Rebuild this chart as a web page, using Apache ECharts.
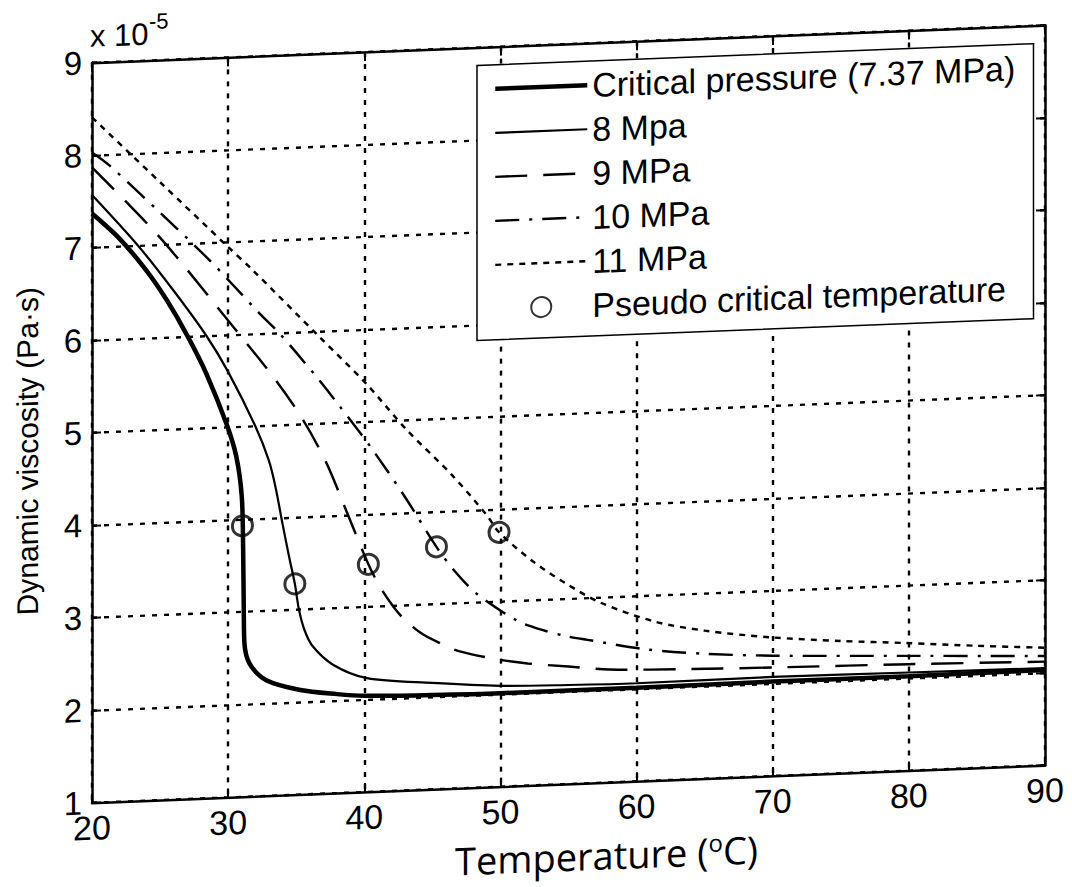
<!DOCTYPE html>
<html>
<head>
<meta charset="utf-8">
<title>Dynamic viscosity of CO2</title>
<script src="https://cdn.jsdelivr.net/npm/echarts/dist/echarts.min.js"></script>
<style>
  html, body { margin: 0; padding: 0; background: #fff; overflow: hidden; }
  /* the scanned figure is slightly sheared: right side sits higher */
  #chart {
    position: absolute; left: 0; top: -30px;
    width: 1072px; height: 947px;
    transform: skewY(-2.256deg);
    transform-origin: 568px 0;
  }
</style>
</head>
<body>
<div id="chart"></div>
<script>
// temperature (°C) and viscosity (x 1e-5 Pa·s)
const tCrit = [20, 22, 24, 25.5, 27, 28.4, 29.9, 30.6, 31.0, 31.1, 31.15, 31.2, 31.6, 32.8, 35.3, 38, 40, 45, 50, 60, 70, 80, 90];
const vCrit = [7.37, 7.09, 6.73, 6.4, 6.01, 5.59, 5.03, 4.68, 4.25, 3.7, 3.0, 2.65, 2.43, 2.25, 2.13, 2.07, 2.04, 2.02, 2.01, 2.01, 2.02, 2.02, 2.03];

const t8 = [20, 23.4, 26, 28.4, 30, 32.0, 33.0, 33.5, 34.0, 34.5, 34.9, 35.2, 35.6, 36.2, 37.7, 40.2, 45, 50, 55, 60, 70, 80, 90];
const v8 = [7.57, 7.0, 6.5, 6.0, 5.6, 5.0, 4.62, 4.32, 3.93, 3.56, 3.28, 3.0, 2.78, 2.6, 2.39, 2.23, 2.15, 2.09, 2.07, 2.06, 2.07, 2.06, 2.05];

const t9 = [20, 25, 30.4, 33.5, 35.5, 37.2, 38.7, 40.3, 41.2, 42.1, 43.0, 44.3, 45.8, 47, 49.7, 52, 55, 58, 64, 71, 80, 90];
const v9 = [7.87, 7.08, 6.08, 5.49, 5.05, 4.58, 4.04, 3.46, 3.2, 3.0, 2.84, 2.68, 2.56, 2.48, 2.38, 2.32, 2.27, 2.22, 2.19, 2.17, 2.15, 2.12];

const t10 = [20, 21.3, 25, 28.6, 32.3, 33.8, 36.7, 38.3, 40.5, 43.0, 45.3, 46.7, 48.3, 51.3, 52.8, 54.8, 56.4, 60.8, 65, 70, 80, 90];
const v10 = [8.03, 7.88, 7.35, 6.82, 6.22, 5.99, 5.47, 5.16, 4.72, 4.17, 3.62, 3.34, 3.09, 2.78, 2.69, 2.6, 2.55, 2.42, 2.35, 2.3, 2.24, 2.18];

const t11 = [20, 22.8, 25, 30, 31.8, 36.7, 40.1, 43.1, 46.5, 49.0, 49.9, 52.4, 54.8, 57.3, 61.3, 65, 69.8, 75, 79.8, 85, 90];
const v11 = [8.41, 8.0, 7.68, 6.95, 6.69, 5.94, 5.42, 4.9, 4.38, 3.94, 3.75, 3.42, 3.17, 2.95, 2.72, 2.6, 2.5, 2.43, 2.38, 2.32, 2.27];

// pseudo critical temperature points
const tPc = [31.05, 34.9, 40.3, 45.3, 49.9];
const vPc = [3.93, 3.28, 3.46, 3.62, 3.75];

const seriesNames = [
  'Critical pressure (7.37 MPa)',
  '8 Mpa',
  '9 MPa',
  '10 MPa',
  '11 MPa',
  'Pseudo critical temperature'
];
const xTicks = [20, 30, 40, 50, 60, 70, 80, 90];
const yTicks = [1, 2, 3, 4, 5, 6, 7, 8, 9];

const pairs = (xs, ys) => xs.map((x, i) => [x, ys[i]]);

const frameLine = { lineStyle: { color: '#000', width: 2.5 } };
const innerTick = { inside: true, length: 9, lineStyle: { color: '#000', width: 2 } };
const gridDots = { lineStyle: { color: '#000', type: [5, 7], width: 2.4 } };

const lineWidths = [4.5, 2.2, 2.4, 2.4, 2.4];
const lineDashes = ['solid', 'solid', [32, 16], [24, 10, 3, 10], [6, 6]];

function curve(i, xs, ys) {
  return {
    name: seriesNames[i],
    type: 'line',
    data: pairs(xs, ys),
    symbol: 'none',
    smooth: 0.3,
    color: '#000',
    itemStyle: { color: 'rgba(0,0,0,0)', borderWidth: 0 },
    lineStyle: { color: '#000', width: lineWidths[i], type: lineDashes[i] },
    z: 3
  };
}

const legendData = seriesNames.map((name, i) => i < 5
  ? { name: name, itemStyle: { opacity: 0 }, lineStyle: { width: lineWidths[i], type: lineDashes[i], color: '#000' } }
  : { name: name });

const chart = echarts.init(document.getElementById('chart'), null, { renderer: 'svg' });

const option = {
  animation: false,
  textStyle: { fontFamily: '"Liberation Sans", Arial, sans-serif', color: '#000' },
  grid: { left: 92, right: 27, top: 74, bottom: 133 },
  xAxis: [
    {
      type: 'value',
      min: xTicks[0], max: xTicks[xTicks.length - 1], interval: 10,
      name: 'Temperature ({sup|o}C)',
      nameLocation: 'middle',
      nameGap: 52,
      nameTextStyle: {
        fontFamily: '"Open Sans", sans-serif', fontSize: 38, lineHeight: 40,
        color: '#000', padding: [0, 0, 0, 76],
        rich: {
          sup: { fontFamily: '"Open Sans", sans-serif', fontSize: 24, lineHeight: 40, verticalAlign: 'top', padding: [0, 0, 12, 0], color: '#000' }
        }
      },
      axisLine: frameLine,
      axisTick: innerTick,
      axisLabel: { fontSize: 34, lineHeight: 34, color: '#000', margin: 8 },
      splitLine: gridDots
    },
    {
      type: 'value', position: 'top',
      min: xTicks[0], max: xTicks[xTicks.length - 1], interval: 10,
      axisLine: frameLine,
      axisTick: innerTick,
      axisLabel: { show: false },
      splitLine: { show: false }
    }
  ],
  yAxis: [
    {
      type: 'value',
      min: yTicks[0], max: yTicks[yTicks.length - 1], interval: 1,
      name: 'Dynamic viscosity (Pa·s)',
      nameLocation: 'middle',
      nameGap: 50,
      nameTextStyle: { fontSize: 30, color: '#000', padding: [0, 32, 0, 0] },
      axisLine: frameLine,
      axisTick: innerTick,
      axisLabel: { fontSize: 33, color: '#000', margin: 10 },
      splitLine: gridDots
    },
    {
      type: 'value', position: 'right',
      min: yTicks[0], max: yTicks[yTicks.length - 1], interval: 1,
      axisLine: frameLine,
      axisTick: innerTick,
      axisLabel: { show: false },
      splitLine: { show: false }
    }
  ],
  legend: {
    orient: 'vertical',
    left: 477,
    top: 92,
    backgroundColor: '#fff',
    borderColor: '#000',
    borderWidth: 1.5,
    borderRadius: 0,
    padding: [7, 18, 14, 16],
    itemGap: 10,
    itemWidth: 92,
    itemHeight: 20,
    textStyle: { fontSize: 34, lineHeight: 34, color: '#000' },
    data: legendData
  },
  graphic: [
    { type: 'text', left: 90, top: 32, style: { text: 'x 10', font: '31px "Liberation Sans"', fill: '#000' } },
    { type: 'text', left: 149, top: 24, style: { text: '-5', font: '22px "Liberation Sans"', fill: '#000' } }
  ],
  series: [
    curve(0, tCrit, vCrit),
    curve(1, t8, v8),
    curve(2, t9, v9),
    curve(3, t10, v10),
    curve(4, t11, v11),
    {
      name: seriesNames[5],
      type: 'scatter',
      data: pairs(tPc, vPc),
      symbol: 'circle',
      symbolSize: 20,
      itemStyle: { color: 'rgba(0,0,0,0)', borderColor: '#000', borderWidth: 3 },
      z: 4
    }
  ]
};

chart.setOption(option);
</script>
</body>
</html>
